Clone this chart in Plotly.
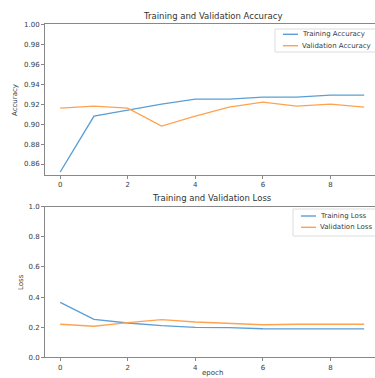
import plotly.graph_objects as go

epochs = list(range(10))
train_acc = [0.852, 0.908, 0.914, 0.920, 0.925, 0.925, 0.927, 0.927, 0.929, 0.929]
val_acc = [0.916, 0.918, 0.916, 0.898, 0.908, 0.917, 0.922, 0.918, 0.920, 0.917]
train_loss = [0.365, 0.252, 0.228, 0.210, 0.199, 0.197, 0.190, 0.191, 0.190, 0.189]
val_loss = [0.219, 0.206, 0.230, 0.250, 0.234, 0.226, 0.216, 0.219, 0.221, 0.219]
acc_ticks = [0.86, 0.88, 0.90, 0.92, 0.94, 0.96, 0.98, 1.00]
loss_ticks = [0.0, 0.2, 0.4, 0.6, 0.8, 1.0]
x_ticks = [0, 2, 4, 6, 8]
legend_top = ["Training Accuracy", "Validation Accuracy"]
legend_bottom = ["Training Loss", "Validation Loss"]

W, H = 375, 378
BLUE = "#5b9fd5"
ORANGE = "#ffa24f"
FONT = "DejaVu Sans"
TXT = "#3a3a3a"
SPINE = "#888"

def py(px):
    return 1 - px / H

def pxx(px):
    return px / W

fig = go.Figure()
fig.add_trace(go.Scatter(x=epochs, y=train_acc, mode="lines", name=legend_top[0],
                         line=dict(color=BLUE, width=1.4), xaxis="x", yaxis="y"))
fig.add_trace(go.Scatter(x=epochs, y=val_acc, mode="lines", name=legend_top[1],
                         line=dict(color=ORANGE, width=1.4), xaxis="x", yaxis="y"))
fig.add_trace(go.Scatter(x=epochs, y=train_loss, mode="lines", name=legend_bottom[0],
                         line=dict(color=BLUE, width=1.4), xaxis="x2", yaxis="y2"))
fig.add_trace(go.Scatter(x=epochs, y=val_loss, mode="lines", name=legend_bottom[1],
                         line=dict(color=ORANGE, width=1.4), xaxis="x2", yaxis="y2"))

xdom = [45 / W, 1.0]
xr = [-0.45, (375 - 60) / 33.8]
common_x = dict(domain=xdom, range=xr, tickvals=x_ticks, ticks="outside", ticklen=3,
                tickcolor=SPINE, showline=True, linecolor=SPINE, linewidth=1, mirror=True,
                showgrid=False, zeroline=False, automargin=False,
                tickfont=dict(size=7, color=TXT, family=FONT))
common_y = dict(ticks="outside", ticklen=3, tickcolor=SPINE, showline=True, linecolor=SPINE,
                linewidth=1, showgrid=False, zeroline=False, automargin=False,
                tickfont=dict(size=7, color=TXT, family=FONT))

shapes = []
annotations = [
    dict(text="Training and Validation Accuracy", x=212 / W, y=py(16), xref="paper", yref="paper",
         showarrow=False, font=dict(size=8.5, color="#333", family=FONT), yanchor="middle"),
    dict(text="Training and Validation Loss", x=212 / W, y=py(198), xref="paper", yref="paper",
         showarrow=False, font=dict(size=8.5, color="#333", family=FONT), yanchor="middle"),
    dict(text="epoch", x=212 / W, y=py(372.5), xref="paper", yref="paper",
         showarrow=False, font=dict(size=7, color=TXT, family=FONT), yanchor="middle"),
    dict(text="Accuracy", x=pxx(15), y=py(100), xref="paper", yref="paper", textangle=-90,
         showarrow=False, font=dict(size=7, color=TXT, family=FONT), xanchor="center", yanchor="middle"),
    dict(text="Loss", x=pxx(21), y=py(282), xref="paper", yref="paper", textangle=-90,
         showarrow=False, font=dict(size=7, color=TXT, family=FONT), xanchor="center", yanchor="middle"),
]

def add_legend(x0, y0, y1, rows, names):
    shapes.append(dict(type="rect", xref="paper", yref="paper", x0=pxx(x0), x1=pxx(380),
                       y0=py(y1), y1=py(y0), line=dict(color="#ddd", width=1),
                       fillcolor="rgba(255,255,255,0.85)", layer="above"))
    for name, ry, col in zip(names, rows, [BLUE, ORANGE]):
        shapes.append(dict(type="line", xref="paper", yref="paper", x0=pxx(x0 + 8), x1=pxx(x0 + 23),
                           y0=py(ry), y1=py(ry), line=dict(color=col, width=1.4), layer="above"))
        annotations.append(dict(text=name, x=pxx(x0 + 25), y=py(ry), xref="paper", yref="paper",
                                xanchor="left", yanchor="middle", showarrow=False,
                                font=dict(size=7, color=TXT, family=FONT)))

add_legend(275, 29, 52, [34.3, 45.7], legend_top)
add_legend(293, 209, 236, [216, 227.3], legend_bottom)

fig.update_layout(
    width=W, height=H, margin=dict(l=0, r=0, t=0, b=0, autoexpand=False),
    paper_bgcolor="white", plot_bgcolor="white", showlegend=False,
    font=dict(family=FONT, color=TXT),
    xaxis=dict(common_x, anchor="y"),
    yaxis=dict(common_y, domain=[py(175), py(24.3)], range=[0.849, 1.0], tickvals=acc_ticks,
               tickformat=".2f", anchor="x"),
    xaxis2=dict(common_x, anchor="y2"),
    yaxis2=dict(common_y, domain=[py(357.3), py(206.7)], range=[0, 1.0], tickvals=loss_ticks,
                tickformat=".1f", anchor="x2"),
    shapes=shapes,
    annotations=annotations,
)

fig.write_html("out.html", config={"displayModeBar": False},
               post_script="document.body.style.margin='0';document.body.style.overflow='hidden';")
